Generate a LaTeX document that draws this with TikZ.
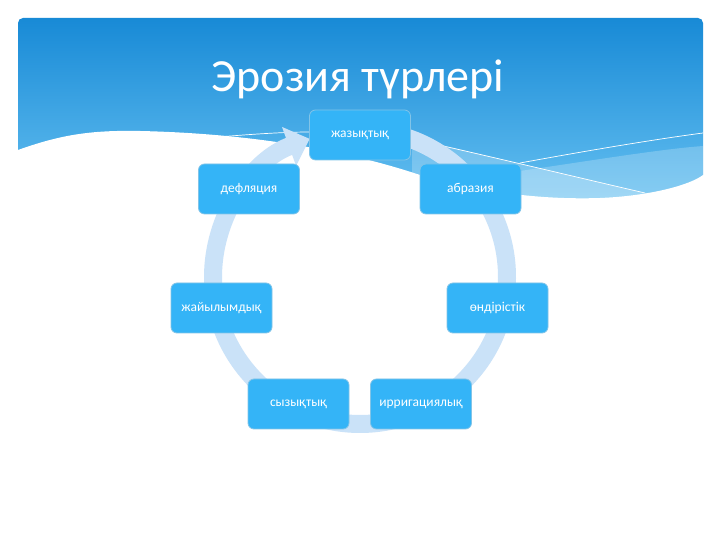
\documentclass[tikz,border=0pt]{standalone}
\usepackage{fontspec}
\setmainfont{Carlito}
\usepackage{tikz}
\usetikzlibrary{arrows.meta, positioning}
\usepackage{xcolor}
\definecolor{bannertop}{RGB}{24,138,214}
\definecolor{bannerbot}{RGB}{104,194,242}
\definecolor{nodeblue}{RGB}{52,180,247}
\definecolor{nodeedge}{RGB}{130,196,232}
\definecolor{ringblue}{RGB}{202,226,248}
\tikzset{
    % Slide title
    etitle/.style={font=\fontsize{46}{50}\selectfont, text=white, anchor=base},
    % Erosion cycle
    enode/.style={rectangle, rounded corners=6pt, draw=nodeedge, fill=nodeblue,
                 line width=0.8pt, minimum width=101pt, minimum height=50pt,
                 align=center, text=white, font=\fontsize{13.5}{15}\selectfont},
    ering/.style={-{Triangle[length=22pt, width=40pt]}, line width=18pt, ringblue},
    % Banner
    wline/.style={white, line width=0.7pt},
    wlight/.style={white, opacity=0.22},
}

\begin{document}
\begin{tikzpicture}[x=1pt, y=1pt]
\useasboundingbox (0,0) rectangle (720,540);
\fill[white] (0,0) rectangle (720,540);

% banner
\shade[top color=bannertop, bottom color=bannerbot, rounded corners=5pt]
    (18,330) rectangle (703,522);
\fill[wlight] (412,402) .. controls (480,386) and (580,362) .. (645,347)
    -- (703,347) -- (703,300) -- (412,300) -- cycle;
\fill[wlight] (470,362) .. controls (560,374) and (650,390) .. (703,394)
    -- (703,300) -- (470,300) -- cycle;
\draw[wline] (195,401) .. controls (240,405) and (280,408) .. (310,408);
\draw[wline] (412,401) .. controls (480,386) and (580,362) .. (645,347);
\draw[wline] (520,377) .. controls (580,388) and (650,400) .. (703,407);
\fill[white] (18,390) .. controls (60,405) and (90,410) .. (140,409)
    .. controls (230,407) and (330,395) .. (420,365)
    .. controls (480,348) and (540,340) .. (600,342)
    .. controls (650,344) and (690,355) .. (703,365)
    -- (720,365) -- (720,0) -- (0,0) -- (0,390) -- cycle;

\node[etitle] (title) at (358,448) {Эрозия түрлері};

% cycle
\coordinate (ctr) at (360,263);
\draw[ering] (ctr) ++(88:147) arc[start angle=88, end angle=-250, radius=147];

\node[enode] (jazyk)   at (360,405)   {жазықтық};
\node[enode] (abraz)   at (470.5,351) {абразия};
\node[enode] (ondir)   at (497.5,232) {өндірістік};
\node[enode] (irrig)   at (421,136)   {ирригациялық};
\node[enode] (syzyk)   at (298.5,136) {сызықтық};
\node[enode] (jaiylym) at (221.5,232) {жайылымдық};
\node[enode] (defl)    at (249,351)   {дефляция};
\end{tikzpicture}
\end{document}
